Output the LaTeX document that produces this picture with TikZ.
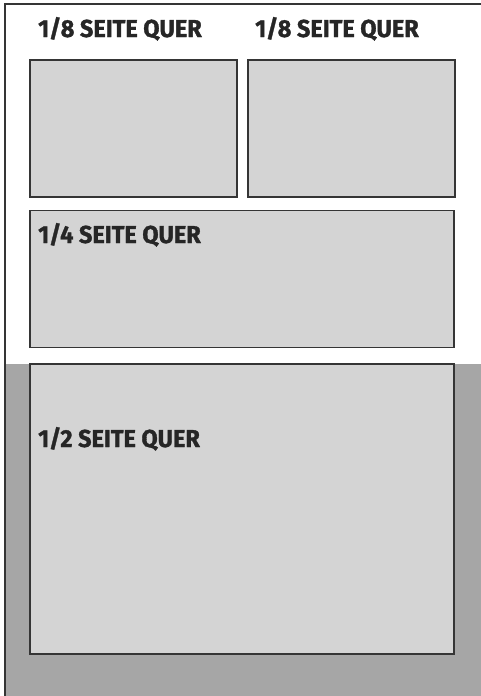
\documentclass[tikz,border=0pt]{standalone}
\usepackage{fontspec}
\setmainfont{Fira Sans}
\newfontfamily\adfont{Fira Sans}[FakeStretch=0.96, BoldFeatures={FakeBold=1.3}]
\usetikzlibrary{positioning}
\definecolor{boxgray}{HTML}{D4D4D4}
\definecolor{pagegray}{HTML}{A6A6A6}
\definecolor{linegray}{HTML}{353535}
\tikzset{
	adbox/.style = {rectangle, draw=linegray, fill=boxgray, line width=1.2pt,
	 inner sep=0pt, outer sep=0pt},
	adlabel/.style = {font=\adfont\bfseries\fontsize{24.5}{24.5}\selectfont, text=black!85,
	 anchor=base west, inner sep=0pt},
}
\begin{document}
\begin{tikzpicture}[x=1pt,y=-1pt]
	\useasboundingbox (0,0) rectangle (481,696);
	\fill[white] (0,0) rectangle (481,696);
	% lower half of the page
	\fill[pagegray] (5,364) rectangle (481,696);
	\draw[linegray, line width=1.8pt] (5,696) -- (5,4) -- (481,4);
	\node at(133.5,128.5) (eighthA) [adbox, minimum width=207, minimum height=137] {};
	\node at(351.5,128.5) (eighthB) [adbox, minimum width=207, minimum height=137] {};
	\node at(242,279) (quarter) [adbox, minimum width=424, minimum height=137] {};
	\node at(242,509) (half) [adbox, minimum width=424, minimum height=290] {};
	\node at(38,37) (eighthAtext) [adlabel] {1/8 SEITE QUER};
	\node at(255,37) (eighthBtext) [adlabel] {1/8 SEITE QUER};
	\node at(38,243) (quartertext) [adlabel] {1/4 SEITE QUER};
	\node at(38,447) (halftext) [adlabel] {1/2 SEITE QUER};
\end{tikzpicture}
\end{document}
